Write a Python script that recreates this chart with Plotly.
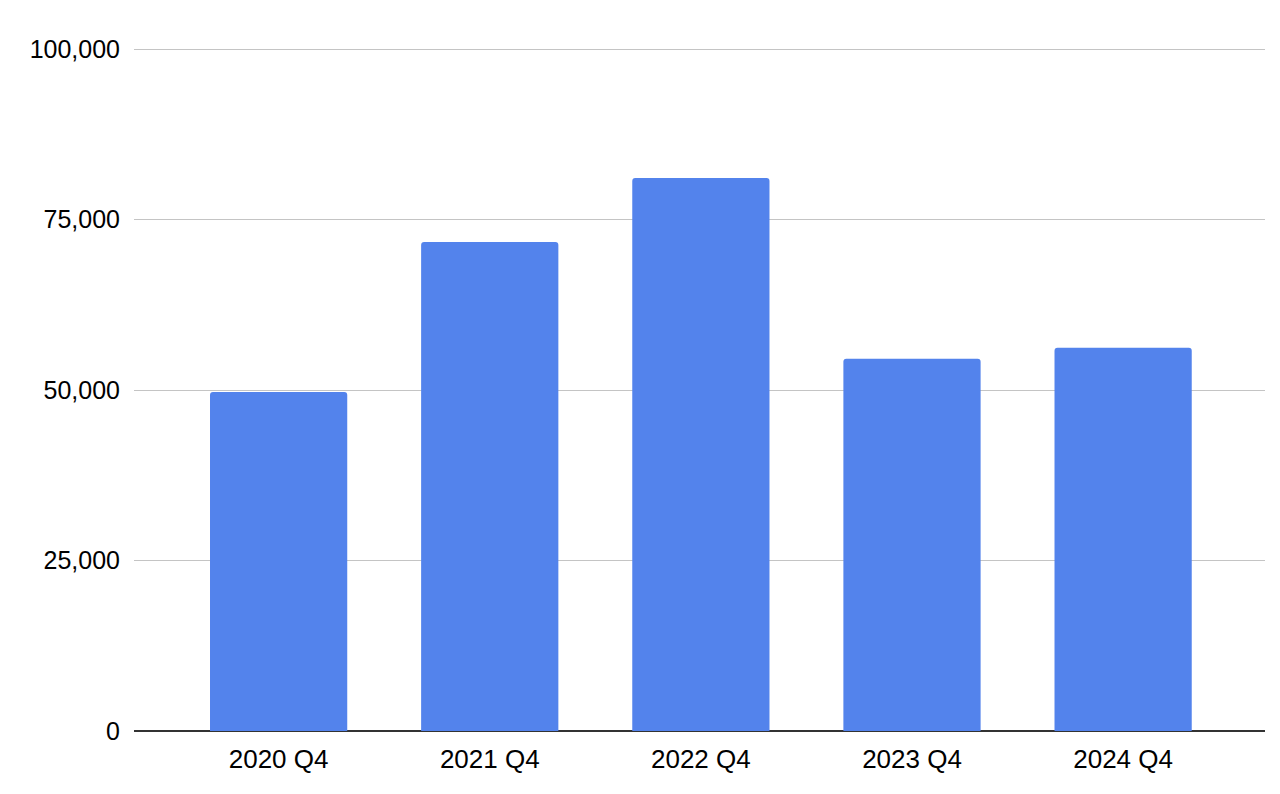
import plotly.graph_objects as go

quarters = ["2020 Q4", "2021 Q4", "2022 Q4", "2023 Q4", "2024 Q4"]
values = [49700, 71700, 81100, 54600, 56200]
y_ticks = [0, 25000, 50000, 75000, 100000]
y_tick_text = ["0", "25,000", "50,000", "75,000", "100,000"]

fig = go.Figure(
    go.Bar(
        x=list(range(len(quarters))),
        y=values,
        width=0.65,
        marker=dict(color="#5383EC", line=dict(width=0), cornerradius=3),
        hoverinfo="y",
    )
)

fig.update_layout(
    width=1280,
    height=794,
    margin=dict(l=134, r=15, t=48, b=63),
    paper_bgcolor="white",
    plot_bgcolor="white",
    showlegend=False,
    font=dict(family="Liberation Sans, Arial, sans-serif", size=25, color="#000000"),
)

fig.update_xaxes(
    range=[-0.685, 4.672],
    tickmode="array",
    tickvals=list(range(len(quarters))),
    ticktext=quarters,
    tickfont=dict(size=26),
    showgrid=False,
    zeroline=False,
    showline=False,
    ticks="outside",
    ticklen=5,
    tickcolor="rgba(0,0,0,0)",
)

# a little headroom above 100,000 so its gridline is drawn
fig.update_yaxes(
    range=[0, 100150],
    tickmode="array",
    tickvals=y_ticks,
    ticktext=y_tick_text,
    tickfont=dict(size=25),
    showgrid=True,
    gridcolor="#C4C4C4",
    gridwidth=1.4,
    zeroline=True,
    zerolinecolor="#333333",
    zerolinewidth=2,
    showline=False,
    ticks="outside",
    ticklen=8,
    tickcolor="rgba(0,0,0,0)",
)

fig.write_html("out.html")
